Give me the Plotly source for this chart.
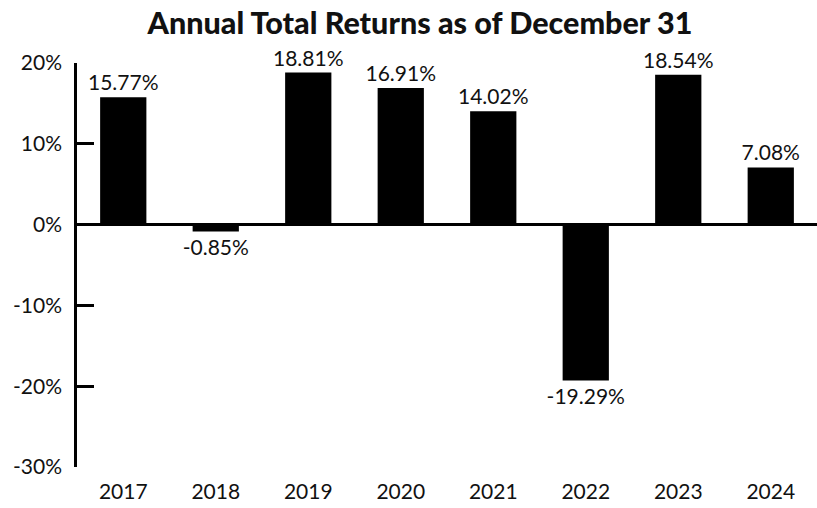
import plotly.graph_objects as go

years = ["2017", "2018", "2019", "2020", "2021", "2022", "2023", "2024"]
returns = [15.77, -0.85, 18.81, 16.91, 14.02, -19.29, 18.54, 7.08]
labels = [f"{v:.2f}%" for v in returns]
tick_vals = [20, 10, 0, -10, -20, -30]
tick_text = [f"{t}%" for t in tick_vals]

FONT = "Lato"

fig = go.Figure(go.Bar(
    x=years, y=returns, marker=dict(color="black", line=dict(width=0)),
    text=labels, textposition="outside", cliponaxis=False,
    constraintext="none",
    textfont=dict(family=FONT, size=21, color="#111"),
))

fig.update_layout(
    width=817, height=508,
    margin=dict(l=77, r=0, t=63, b=41),
    paper_bgcolor="white", plot_bgcolor="white",
    bargap=0.5, showlegend=False,
    title=dict(text="Annual Total Returns as of December 31",
               x=0.514, xanchor="center", y=0.955, yanchor="middle",
               font=dict(family=FONT, size=30.5, color="#111", weight=900)),
    font=dict(family=FONT, size=21, color="#111"),
)
fig.update_yaxes(
    range=[-30, 20], tickvals=tick_vals, ticktext=tick_text,
    showgrid=False, showline=True, linecolor="black", linewidth=2.5,
    ticks="inside", ticklen=17, tickwidth=2.5, tickcolor="black",
    zeroline=True, zerolinecolor="black", zerolinewidth=2.5,
    ticklabelstandoff=8,
    tickfont=dict(family=FONT, size=21, color="#111"),
)
fig.update_xaxes(
    showgrid=False, showline=False, ticks="",
    ticklabelstandoff=10,
    tickfont=dict(family=FONT, size=21, color="#111"),
)

fig.write_html("out.html")
